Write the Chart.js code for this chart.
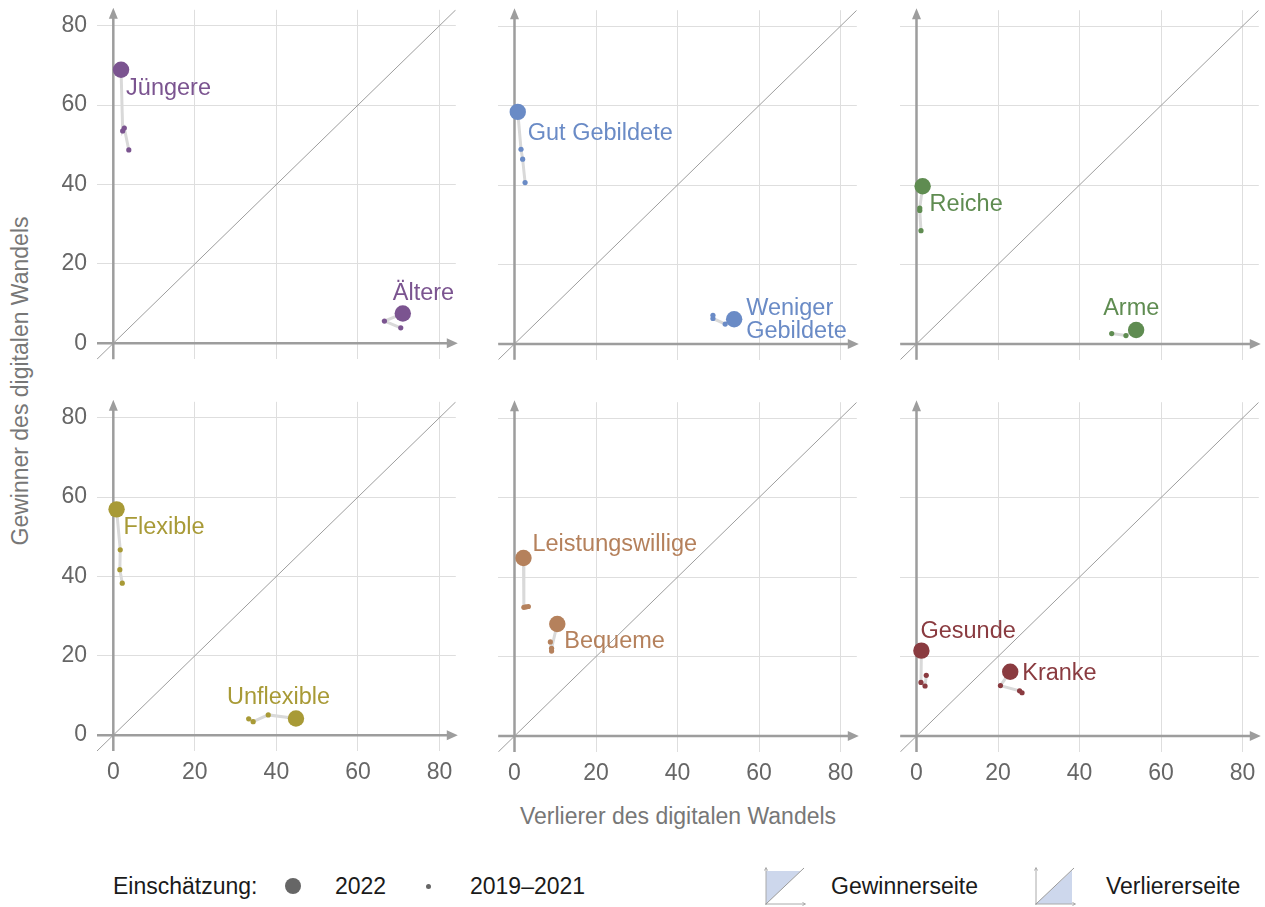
<!DOCTYPE html>
<html>
<head>
<meta charset="utf-8">
<script src="https://cdn.jsdelivr.net/npm/chart.js@4.4.1/dist/chart.umd.min.js"></script>
<style>
  body { margin: 0; background: #fff; font-family: "Liberation Sans", Arial, sans-serif; }
  #wrap { position: relative; width: 1265px; height: 907px; overflow: hidden; }
  canvas { position: absolute; }
  .txt { position: absolute; font-size: 23px; line-height: 28px; white-space: nowrap; }
  #ytitle { position: absolute; left: -280px; top: 367px; width: 600px; text-align: center;
            transform: rotate(-90deg); color: #777; font-size: 23px; line-height: 28px; }
  #xtitle { left: 378px; top: 802px; width: 600px; text-align: center; color: #777; }
  .leg { color: #1a1a1a; top: 872px; }
  .dot { position: absolute; border-radius: 50%; background: #666; }
  svg { position: absolute; }
</style>
</head>
<body>
<div id="wrap">
  <div id="ytitle">Gewinner des digitalen Wandels</div>
  <div id="xtitle" class="txt">Verlierer des digitalen Wandels</div>

  <div class="txt leg" style="left:113px">Einschätzung:</div>
  <div class="dot" style="left:285px; top:878px; width:16px; height:16px"></div>
  <div class="txt leg" style="left:335px">2022</div>
  <div class="dot" style="left:425.5px; top:883.5px; width:5px; height:5px"></div>
  <div class="txt leg" style="left:470px">2019–2021</div>

  <svg style="left:764px; top:866px" width="44" height="42" viewBox="0 0 44 42">
    <polygon points="2,5 36.5,5 2,38" fill="#cdd7ec"/>
    <path d="M2,39 V2 M0.5,4.5 L2,1.5 L3.5,4.5 M1,38 H41 M38.5,36.5 L41.5,38 L38.5,39.5" stroke="#aaa" stroke-width="1" fill="none"/>
    <line x1="2" y1="38" x2="40" y2="2" stroke="#999" stroke-width="1"/>
  </svg>
  <div class="txt leg" style="left:831px">Gewinnerseite</div>

  <svg style="left:1034px; top:866px" width="44" height="42" viewBox="0 0 44 42">
    <polygon points="2,38 38,4.5 38,38" fill="#cdd7ec"/>
    <path d="M2,39 V2 M0.5,4.5 L2,1.5 L3.5,4.5 M1,38 H41 M38.5,36.5 L41.5,38 L38.5,39.5" stroke="#aaa" stroke-width="1" fill="none"/>
    <line x1="2" y1="38" x2="40" y2="2" stroke="#999" stroke-width="1"/>
  </svg>
  <div class="txt leg" style="left:1106px">Verliererseite</div>
</div>

<script>
// axis range and ticks (percent)
const axisMin = -4;
const axisMax = 84;
const tickValues = [0, 20, 40, 60, 80];

const groupNames = ['Jüngere', 'Ältere', 'Gut Gebildete', 'Weniger Gebildete', 'Reiche', 'Arme',
  'Flexible', 'Unflexible', 'Leistungswillige', 'Bequeme', 'Gesunde', 'Kranke'];

// 2022: x = Verlierer, y = Gewinner
const loser2022 = [1.9, 71.0, 0.8, 53.9, 1.5, 53.9, 0.8, 44.8, 2.2, 10.5, 1.2, 23.0];
const winner2022 = [68.9, 7.5, 58.4, 6.2, 39.7, 3.5, 56.9, 4.2, 44.8, 28.2, 21.5, 16.2];

// 2019-2021, newest first
const loserEarlier = [
  [2.3, 2.7, 3.8], [66.5, 70.5],
  [1.6, 2.0, 2.6], [51.7, 48.7, 48.7],
  [0.8, 0.8, 1.1], [51.4, 47.9],
  [1.7, 1.6, 2.2], [38.0, 34.3, 33.2],
  [2.3, 2.8, 3.4], [9.1, 9.1, 8.8],
  [1.1, 2.1, 2.4], [20.6, 25.3, 25.9]
];
const winnerEarlier = [
  [53.5, 54.2, 48.7], [5.6, 3.9],
  [49.0, 46.5, 40.6], [5.0, 6.4, 7.2],
  [34.2, 33.6, 28.5], [2.1, 2.6],
  [46.7, 41.7, 38.3], [5.1, 3.4, 4.1],
  [32.4, 32.5, 32.6], [22.1, 21.4, 23.7],
  [13.5, 12.6, 15.3], [12.7, 11.4, 10.9]
];

// styling
const panelColors = ['#7b5490', '#6a8bc6', '#5f8c51', '#a89a36', '#b5815c', '#8a3b40'];
// label offset from the 2022 dot, in px (text left / middle)
const labelOffsets = [
  [5, 19], [-10, -20], [10, 22], [12, -11], [7, 18], [-33, -21],
  [7, 18], [-69, -21], [9, -14], [7, 18], [-1, -19], [12, 2]
];

const AREA_W = 359, AREA_H = 350, PAD = 6;
const areaLeft = [97, 498, 900];
const areaTop = [10, 402];

Chart.defaults.font.family = "'Liberation Sans', Arial, sans-serif";
Chart.defaults.font.size = 23;

const axisArrows = {
  id: 'axisArrows',
  beforeDatasetsDraw(chart) {
    const {ctx, chartArea: a, scales: {x, y}} = chart;
    const x0 = x.getPixelForValue(0), y0 = y.getPixelForValue(0);
    ctx.save();
    ctx.strokeStyle = '#9d9d9d';
    ctx.fillStyle = '#9d9d9d';
    ctx.lineWidth = 2.5;
    ctx.beginPath();
    ctx.moveTo(a.left, y0); ctx.lineTo(a.right - 6, y0);
    ctx.moveTo(x0, a.bottom); ctx.lineTo(x0, a.top + 6);
    ctx.stroke();
    ctx.beginPath();
    ctx.moveTo(a.right + 2, y0); ctx.lineTo(a.right - 9, y0 - 5); ctx.lineTo(a.right - 9, y0 + 5);
    ctx.closePath();
    ctx.moveTo(x0, a.top - 2); ctx.lineTo(x0 - 4.5, a.top + 9); ctx.lineTo(x0 + 4.5, a.top + 9);
    ctx.closePath();
    ctx.fill();
    ctx.restore();
  }
};

const groupLabels = {
  id: 'groupLabels',
  afterDatasetsDraw(chart, args, opts) {
    const {ctx, scales: {x, y}} = chart;
    ctx.save();
    ctx.font = "23.5px 'Liberation Sans', Arial, sans-serif";
    ctx.textAlign = 'left';
    ctx.textBaseline = 'middle';
    opts.groups.forEach(g => {
      const px = x.getPixelForValue(loser2022[g]) + labelOffsets[g][0];
      const py = y.getPixelForValue(winner2022[g]) + labelOffsets[g][1];
      ctx.fillStyle = opts.color;
      const lines = groupNames[g] === 'Weniger Gebildete' ? groupNames[g].split(' ') : [groupNames[g]];
      lines.forEach((t, i) => ctx.fillText(t, px, py + i * 23.5));
    });
    ctx.restore();
  }
};

function panelConfig(p) {
  const col = p % 3, row = Math.floor(p / 3);
  const yW = col === 0 ? 60 : 0;
  const xH = row === 1 ? 40 : 0;
  const color = panelColors[p];
  const groups = [2 * p, 2 * p + 1];

  const datasets = [{
    data: [{x: axisMin, y: axisMin}, {x: axisMax, y: axisMax}],
    showLine: true, borderColor: '#9d9d9d', borderWidth: 1, pointRadius: 0, order: 5
  }];
  groups.forEach(g => {
    const now = {x: loser2022[g], y: winner2022[g]};
    const before = loserEarlier[g].map((v, i) => ({x: v, y: winnerEarlier[g][i]}));
    datasets.push({
      data: [now].concat(before), showLine: true, borderColor: '#d9d9d9', borderWidth: 3,
      pointRadius: 0, order: 3
    });
    datasets.push({
      data: before, backgroundColor: color, pointRadius: 2.6, pointBorderWidth: 0, order: 2
    });
    datasets.push({
      data: [now], backgroundColor: color, pointRadius: 8.2, pointBorderWidth: 0, order: 1
    });
  });

  const tickSetup = s => { s.ticks = tickValues.map(v => ({value: v})); };

  return {
    type: 'scatter',
    data: {datasets},
    options: {
      responsive: false,
      maintainAspectRatio: false,
      animation: false,
      events: [],
      layout: {padding: {top: PAD, right: PAD, left: 0, bottom: 0}},
      plugins: {
        legend: {display: false},
        tooltip: {enabled: false},
        groupLabels: {groups, color}
      },
      scales: {
        x: {
          type: 'linear', min: axisMin, max: axisMax,
          afterBuildTicks: tickSetup,
          afterFit: s => { s.height = xH; },
          border: {display: false},
          grid: {color: '#dedede', lineWidth: 1, drawTicks: false},
          ticks: {display: row === 1, color: '#666', padding: 8}
        },
        y: {
          type: 'linear', min: axisMin, max: axisMax,
          afterBuildTicks: tickSetup,
          afterFit: s => { s.width = yW; },
          border: {display: false},
          grid: {color: '#dedede', lineWidth: 1, drawTicks: false},
          ticks: {display: col === 0, color: '#666', padding: 10}
        }
      }
    },
    plugins: [axisArrows, groupLabels]
  };
}

function makePanel(p) {
  const col = p % 3, row = Math.floor(p / 3);
  const canvas = document.createElement('canvas');
  document.getElementById('wrap').appendChild(canvas);

  // first pass: measure how much room the scales take, then size the canvas so
  // the plot area has the wanted size
  let w = AREA_W + 80, h = AREA_H + 60;
  canvas.width = w; canvas.height = h;
  let chart = new Chart(canvas, panelConfig(p));
  const a = chart.chartArea;
  w += AREA_W - (a.right - a.left);
  h += AREA_H - (a.bottom - a.top);
  chart.destroy();

  canvas.width = w; canvas.height = h;
  chart = new Chart(canvas, panelConfig(p));
  const b = chart.chartArea;
  canvas.style.left = (areaLeft[col] - b.left) + 'px';
  canvas.style.top = (areaTop[row] - b.top) + 'px';
}

for (let p = 0; p < 6; p++) makePanel(p);
</script>
</body>
</html>
